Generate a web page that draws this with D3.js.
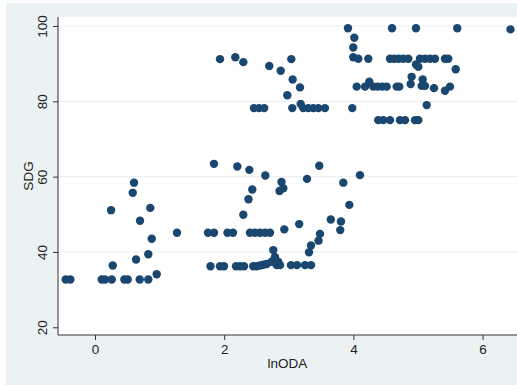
<!DOCTYPE html>
<html>
<head>
<meta charset="utf-8">
<script src="https://cdn.jsdelivr.net/npm/d3@7"></script>
<style>
  html, body { margin: 0; padding: 0; background: #ffffff; }
  svg { display: block; }
  text { font-family: "Liberation Sans", Arial, Helvetica, sans-serif; fill: #222; }
</style>
</head>
<body>
<svg id="chart" width="517" height="385"></svg>
<script>
// Scatter of SDG score against log ODA
const lnODA = [
  -0.454, -0.382, 0.104, 0.155, 0.259, 0.454, 0.506, 0.692, 0.825, 0.955, 0.274, 0.635, 0.825, 0.878, 0.697, 0.248, 0.856, 0.584, 0.604, 1.269,
  1.749, 1.842, 2.051, 2.136, 2.399, 2.477, 2.554, 2.632, 2.709,
  2.930, 3.161, 3.483, 3.460, 3.344, 3.313, 3.650, 3.808, 3.797, 3.937, 3.844, 4.102, 3.472, 3.282,
  2.887, 2.915, 2.856, 2.636, 2.389, 2.203, 1.842, 2.435, 2.376, 2.296,
  1.788, 1.935, 1.997, 2.183, 2.245, 2.307, 2.450, 2.503, 2.554, 2.605, 2.658, 2.735, 2.760, 2.786, 2.837, 2.813, 2.864, 3.034, 3.127, 3.251, 3.344,
  1.935, 2.172, 2.296, 2.460, 2.540, 2.620, 2.698, 2.875, 3.039, 3.060, 3.173, 2.977, 3.054, 3.184, 3.224, 3.302, 3.379, 3.457, 3.560,
  3.916, 4.598, 4.969, 5.608, 6.432, 4.014, 3.998, 3.998, 4.076, 4.231, 4.567, 4.633, 4.701, 4.773, 4.850, 5.031, 5.108, 5.186, 5.263, 5.418, 5.469,
  4.969, 5.005, 5.584, 4.902, 5.073,
  4.051, 4.180, 4.246, 4.308, 4.376, 4.447, 4.515, 4.670, 4.711, 4.887, 5.057, 5.108, 5.248, 5.418, 5.495,
  3.983, 5.135,
  4.385, 4.463, 4.567, 4.721, 4.799, 4.954, 5.005
];
const SDG = [
  32.7, 32.7, 32.7, 32.7, 32.7, 32.7, 32.7, 32.7, 32.7, 34.1, 36.4, 38.0, 39.4, 43.5, 48.3, 51.1, 51.7, 55.7, 58.4, 45.1,
  45.1, 45.1, 45.1, 45.1, 45.1, 45.1, 45.1, 45.1, 45.1,
  46.0, 47.4, 44.8, 43.0, 41.7, 39.9, 48.6, 48.1, 45.8, 52.5, 58.4, 60.4, 62.9, 59.4,
  58.6, 56.9, 56.2, 60.3, 61.8, 62.7, 63.4, 56.6, 54.0, 49.9,
  36.2, 36.2, 36.2, 36.2, 36.2, 36.2, 36.2, 36.2, 36.4, 36.6, 36.8, 37.4, 40.5, 38.7, 37.4, 36.5, 36.5, 36.5, 36.5, 36.5, 36.5,
  91.2, 91.7, 90.4, 78.2, 78.2, 78.2, 89.4, 88.1, 91.2, 85.8, 83.7, 81.6, 78.2, 79.3, 78.2, 78.2, 78.2, 78.2, 78.2,
  99.4, 99.4, 99.4, 99.4, 99.1, 96.9, 94.3, 91.7, 91.3, 91.3, 91.3, 91.3, 91.3, 91.3, 91.3, 91.3, 91.3, 91.3, 91.3, 91.3, 91.3,
  89.8, 89.2, 88.5, 86.5, 85.8,
  83.9, 83.9, 85.2, 83.9, 83.9, 83.9, 83.9, 83.9, 83.9, 84.6, 84.1, 84.1, 83.5, 82.8, 83.9,
  78.2, 79.0,
  75.0, 75.0, 75.0, 75.0, 75.0, 75.0, 75.0
];
const xTicks = [0, 2, 4, 6];
const yTicks = [20, 40, 60, 80, 100];
const xTitle = "lnODA";
const yTitle = "SDG";

const W = 517, H = 385;
const plot = { left: 58, right: 517, top: 17, bottom: 335 };
const svg = d3.select("#chart");

// graph region and plot region
svg.append("rect").attr("x", 6).attr("y", 3).attr("width", W - 6).attr("height", H - 3).attr("fill", "#EAF2F3");
svg.append("rect").attr("x", plot.left).attr("y", plot.top)
  .attr("width", plot.right - plot.left).attr("height", plot.bottom - plot.top).attr("fill", "#ffffff");

const x = d3.scaleLinear().domain([-0.573, 6.533]).range([plot.left, plot.right]);
const y = d3.scaleLinear().domain([17.95, 102.39]).range([plot.bottom, plot.top]);

// horizontal grid lines
svg.append("g").selectAll("line").data(yTicks.filter(v => v > 20)).join("line")
  .attr("x1", plot.left).attr("x2", plot.right)
  .attr("y1", d => y(d)).attr("y2", d => y(d))
  .attr("stroke", "#E8EFF1").attr("stroke-width", 1);

// points
svg.append("g").selectAll("circle").data(lnODA.map((v, i) => [v, SDG[i]])).join("circle")
  .attr("cx", d => x(d[0])).attr("cy", d => y(d[1])).attr("r", 4.2)
  .attr("fill", "#1A476F");

// axes
const yAxis = svg.append("g").attr("transform", `translate(${plot.left},0)`)
  .call(d3.axisLeft(y).tickValues(yTicks).tickSize(5).tickSizeOuter(0));
yAxis.select(".domain").attr("d", `M0,${plot.top}V${plot.bottom}`).attr("stroke", "#333");
yAxis.selectAll(".tick line").attr("stroke", "#333");
yAxis.selectAll(".tick text")
  .attr("transform", "rotate(-90)").attr("x", 0).attr("y", -11).attr("dy", 0)
  .attr("text-anchor", "middle").style("font-size", "13.5px")
  .style("font-family", "'Liberation Sans', Arial, sans-serif").attr("fill", "#222");

const xAxis = svg.append("g").attr("transform", `translate(0,${plot.bottom})`)
  .call(d3.axisBottom(x).tickValues(xTicks).tickSize(5).tickPadding(4).tickSizeOuter(0));
xAxis.select(".domain").attr("d", `M${plot.left},0H${plot.right}`).attr("stroke", "#333");
xAxis.selectAll(".tick line").attr("stroke", "#333");
xAxis.selectAll(".tick text").style("font-size", "13.5px")
  .style("font-family", "'Liberation Sans', Arial, sans-serif").attr("fill", "#222");

// axis titles
svg.append("text").attr("x", (plot.left + plot.right) / 2).attr("y", 368)
  .attr("text-anchor", "middle").style("font-size", "13.5px").text(xTitle);
svg.append("text").attr("transform", `translate(33,${(plot.top + plot.bottom) / 2}) rotate(-90)`)
  .attr("text-anchor", "middle").style("font-size", "13.5px").text(yTitle);
</script>
</body>
</html>
